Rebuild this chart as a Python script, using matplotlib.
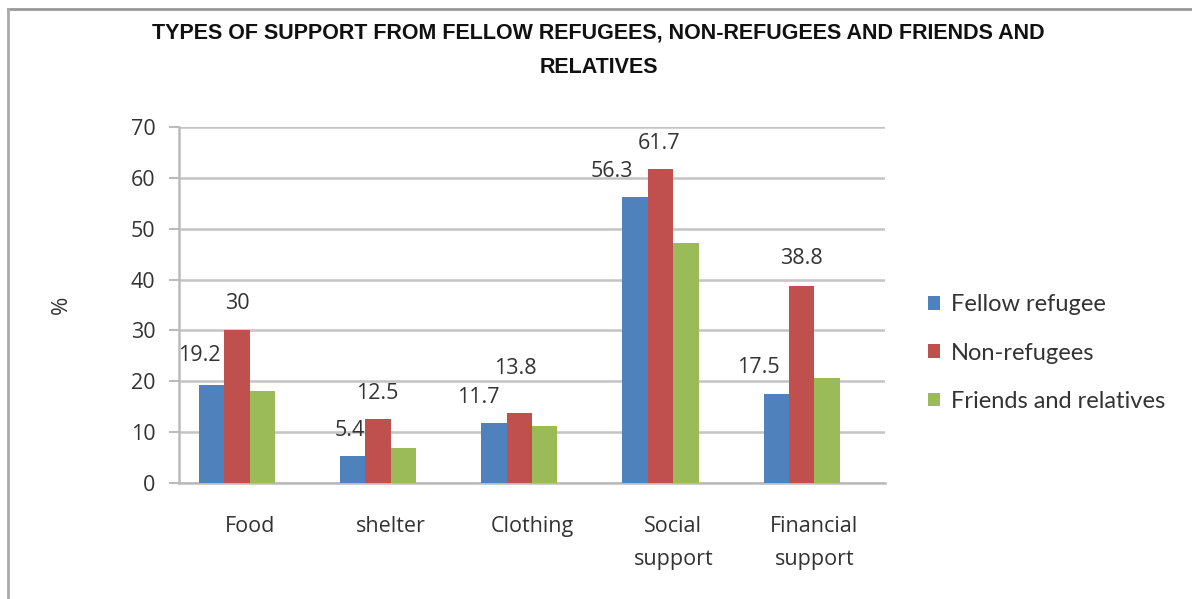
import numpy as np
import matplotlib.pyplot as plt
from matplotlib.lines import Line2D

categories = ['Food', 'shelter', 'Clothing', 'Social\nsupport', 'Financial\nsupport']
fellow = [19.2, 5.4, 11.7, 56.3, 17.5]
nonref = [30, 12.5, 13.8, 61.7, 38.8]
friends = [18.0, 6.9, 11.2, 47.2, 20.7]
series_names = ['Fellow refugee', 'Non-refugees', 'Friends and relatives']
label_texts_fellow = ['19.2', '5.4', '11.7', '56.3', '17.5']
label_texts_nonref = ['30', '12.5', '13.8', '61.7', '38.8']

colors = ['#4F81BD', '#C0504D', '#9BBB59']
# label offsets in points (excel puts them a bit oddly)
off_fellow = [(-8.5, 21.5), (-2, 18), (-11, 18.7), (-17, 18), (-13, 19.4)]
off_nonref = [(0, 19.4), (-1, 18.7), (-3, 31.7), (-1, 18.7), (0, 19.4)]

fs = 15.5
fig = plt.figure(figsize=(11.92, 5.99), dpi=100)
ax = fig.add_axes([0.1502, 0.1937, 0.5923, 0.5943])

x = np.arange(len(categories))
w = 0.18
# bars sit left of the slot centre (room for an empty 4th slot like excel)
for i, (vals, name) in enumerate(zip([fellow, nonref, friends], series_names)):
    ax.bar(x + (i - 1.5) * w, vals, w, color=colors[i], label=name, zorder=3)

for xi, v, t, o in zip(x - 1.5 * w, fellow, label_texts_fellow, off_fellow):
    ax.annotate(t, (xi, v), xytext=o, textcoords='offset points',
                ha='center', va='center', fontsize=fs, color='#333333',
                family='Open Sans', zorder=4)
for xi, v, t, o in zip(x - 0.5 * w, nonref, label_texts_nonref, off_nonref):
    ax.annotate(t, (xi, v), xytext=o, textcoords='offset points',
                ha='center', va='center', fontsize=fs, color='#333333',
                family='Open Sans', zorder=4)

ax.set_xlim(-0.5, 4.5)
ax.set_ylim(0, 70)
ax.set_yticks(range(0, 71, 10))
ax.yaxis.grid(True, color='#c4c4c4', linewidth=1.8, zorder=0)
ax.set_axisbelow(True)
ax.set_xticks(x)
ax.set_xticklabels(categories, fontsize=fs, family='Open Sans', color='#333333',
                   linespacing=1.75)
ax.tick_params(axis='x', length=0, pad=24)
ax.tick_params(axis='y', length=7, width=1.5, color='#bbbbbb', labelsize=fs,
               labelcolor='#333333', pad=10)
for tl in ax.get_yticklabels():
    tl.set_family('Open Sans')
for s in ['top', 'right']:
    ax.spines[s].set_visible(False)
ax.spines['left'].set_color('#bbbbbb')
ax.spines['left'].set_linewidth(1.8)
ax.spines['bottom'].set_color('#bbbbbb')
ax.spines['bottom'].set_linewidth(1.8)

ax.set_ylabel('%', fontsize=16, family='Open Sans', color='#333333', labelpad=42)

ax.legend(loc='center left', bbox_to_anchor=(1.031, 0.365), frameon=False,
          prop={'family': 'Lato', 'size': 17}, handlelength=0.5, handleheight=0.5,
          handletextpad=0.45, labelspacing=1.15, labelcolor='#333333')

title_font = ['Liberation Sans', 'DejaVu Sans']
fig.text(0.502, 0.945, 'TYPES OF SUPPORT FROM FELLOW REFUGEES, NON-REFUGEES AND FRIENDS AND',
         ha='center', va='center', fontsize=15.5, fontweight='bold',
         family=title_font, color='#111111')
fig.text(0.502, 0.888, 'RELATIVES', ha='center', va='center', fontsize=15.5,
         fontweight='bold', family=title_font, color='#111111')

# figure frame (top and left edges visible)
fig.add_artist(Line2D([0.007, 1.0], [0.985, 0.985], transform=fig.transFigure,
                      color='#999999', linewidth=2))
fig.add_artist(Line2D([0.007, 0.007], [0.0, 0.985], transform=fig.transFigure,
                      color='#aaaaaa', linewidth=2))

fig.savefig('out.png', dpi=100)
